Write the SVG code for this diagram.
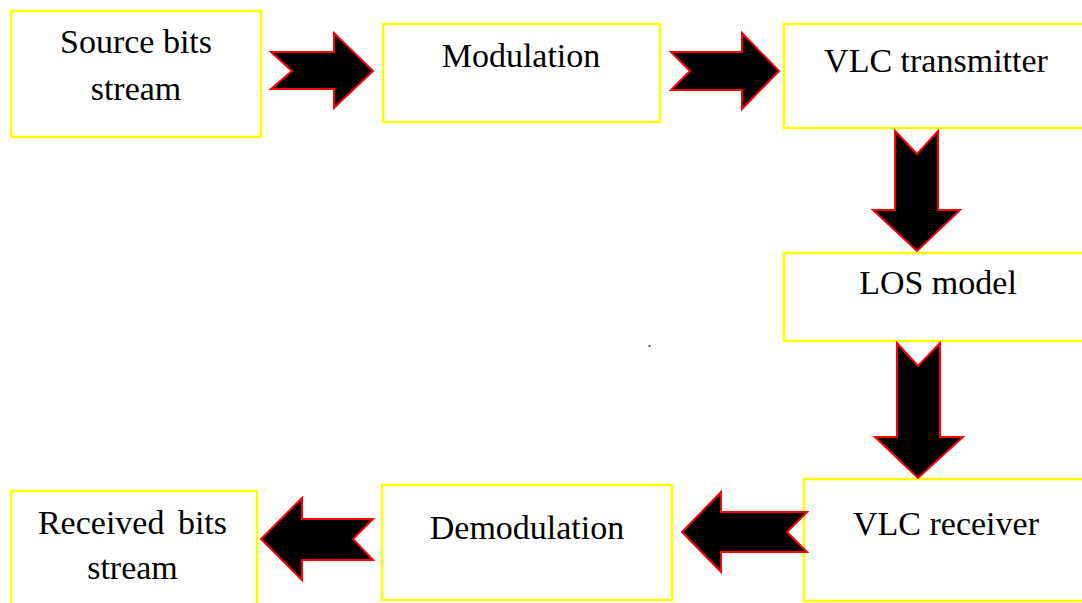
<svg xmlns="http://www.w3.org/2000/svg" width="1082" height="603" viewBox="0 0 1082 603">
  <style>
    .box { fill: #ffffff; stroke: #ffff00; stroke-width: 2.5; }
    .lbl { font-family: "Liberation Serif", "Times New Roman", serif; font-size: 34px; fill: #000000; text-anchor: middle; }
    .arrow { fill: #000000; stroke: #ff0000; stroke-width: 2; stroke-linejoin: miter; }
  </style>
  <rect width="1082" height="603" fill="#ffffff"/>

  <g id="source">
    <rect class="box" x="11" y="11" width="250" height="126"/>
    <text class="lbl" x="136" y="53">Source bits</text>
    <text class="lbl" x="136" y="100">stream</text>
  </g>

  <g id="modulation">
    <rect class="box" x="383" y="24" width="277" height="98"/>
    <text class="lbl" x="521" y="67">Modulation</text>
  </g>

  <g id="transmitter">
    <rect class="box" x="784" y="24" width="310" height="104"/>
    <text class="lbl" x="936" y="72">VLC transmitter</text>
  </g>

  <g id="los">
    <rect class="box" x="784" y="253" width="310" height="88"/>
    <text class="lbl" x="938" y="294">LOS model</text>
  </g>

  <g id="receiver">
    <rect class="box" x="804" y="479" width="290" height="122"/>
    <text class="lbl" x="946" y="535">VLC receiver</text>
  </g>

  <g id="demodulation">
    <rect class="box" x="382" y="485" width="290" height="115"/>
    <text class="lbl" x="527" y="539">Demodulation</text>
  </g>

  <g id="received">
    <rect class="box" x="11" y="491" width="246" height="120"/>
    <text class="lbl" x="132.5" y="534" word-spacing="5">Received bits</text>
    <text class="lbl" x="132.5" y="579">stream</text>
  </g>

  <g id="connectors">
    <!-- source -> modulation -->
    <polygon class="arrow" points="271,52 334,52 334,33 373,71 334,108 334,89 271,89 292,71"/>
    <!-- modulation -> transmitter -->
    <polygon class="arrow" points="671,52 742,52 742,33 779,71 742,109 742,90 671,90 690,71"/>
    <!-- transmitter -> LOS model -->
    <polygon class="arrow" points="895,131 917,154 938,131 938,210 960,210 917,251 873,210 895,210"/>
    <!-- LOS model -> receiver -->
    <polygon class="arrow" points="897,343 918,366 940,343 940,437 963,437 918,478 875,437 897,437"/>
    <!-- receiver -> demodulation -->
    <polygon class="arrow" points="807,512 721,512 721,492 682,532 721,572 721,552 807,552 787,532"/>
    <!-- demodulation -> received -->
    <polygon class="arrow" points="373,519 302,519 302,498 261,539 302,580 302,560 373,560 353,539"/>
  </g>

  <rect x="648.5" y="345" width="2" height="2" fill="#4a4aff"/>
</svg>
